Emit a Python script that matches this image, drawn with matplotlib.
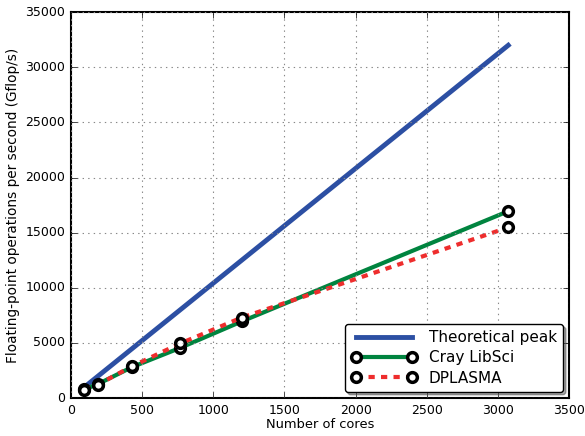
import matplotlib
matplotlib.use("Agg")
import matplotlib.pyplot as plt

cores = [96, 192, 432, 768, 1200, 3072]
libsci = [780, 1280, 2820, 4550, 6950, 16950]
dplasma = [730, 1230, 2900, 4950, 7300, 15480]
peak_x = [96, 3072]
peak_y = [1000, 32000]

plt.style.use('classic')
plt.rcParams['font.family'] = 'DejaVu Sans'
fig = plt.figure(figsize=(5.85, 4.36), dpi=100)
ax = fig.add_axes([0.121, 0.087, 0.852, 0.885])

ax.plot(peak_x, peak_y, color='#2c4fa3', lw=3.5, label='Theoretical peak')
ax.plot(cores, libsci, color='#00843f', lw=3, marker='o', ms=7, mfc='white',
        mec='black', mew=2.5, label='Cray LibSci')
ax.plot(cores, dplasma, color='#ee2d2d', lw=3, ls='--', dashes=(4.5, 4.5), marker='o', ms=7,
        mfc='white', mec='black', mew=2.5, label='DPLASMA')

ax.set_xlim(0, 3500)
ax.set_ylim(0, 35000)
ax.grid(True, color='#888888', ls=(0, (1, 3)), lw=0.8)
ax.tick_params(labelsize=9)
ax.set_xlabel('Number of cores', fontsize=9.4, labelpad=1)
ax.set_ylabel('Floating-point operations per second (Gflop/s)', fontsize=9.8, labelpad=4)
for s in ax.spines.values():
    s.set_linewidth(1.5)
leg = ax.legend(loc='lower right', fontsize=11, shadow=True, fancybox=True, numpoints=2,
                handlelength=4.3, borderaxespad=0.4, labelspacing=0.35)
fig.savefig('out.png', dpi=100)
